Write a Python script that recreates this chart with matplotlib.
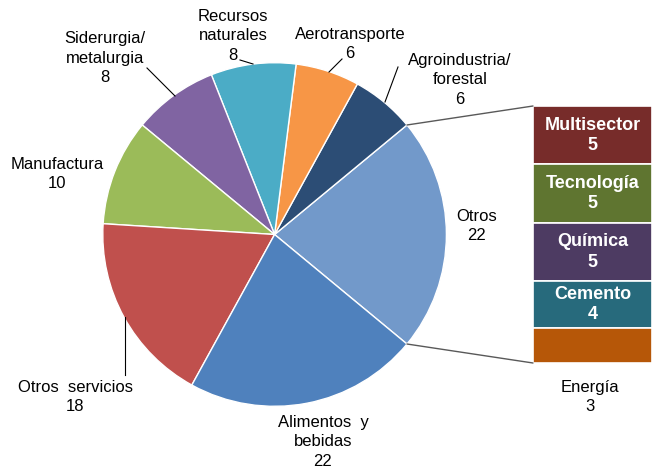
import matplotlib.pyplot as plt
from matplotlib.patches import ConnectionPatch
import numpy as np

plt.rcParams['font.family'] = ['Liberation Sans', 'DejaVu Sans']

# Sectores del gráfico circular (en orden antihorario, empezando por "Otros")
sectores = ["Otros", "Agroindustria/\nforestal", "Aerotransporte", "Recursos\nnaturales",
            "Siderurgia/\nmetalurgia", "Manufactura", "Otros  servicios", "Alimentos  y\nbebidas"]
valores = [22, 6, 6, 8, 8, 10, 18, 22]
colores = ["#7299CA", "#2C4D75", "#F79646", "#4BACC6", "#8064A2", "#9BBB59", "#C0504D", "#4F81BD"]

# Desglose de "Otros" (barra apilada, de arriba hacia abajo)
otros_sect = ["Multisector", "Tecnología", "Química", "Cemento", "Energía"]
otros_val = [5, 5, 5, 4, 3]
otros_col = ["#772C2A", "#5F7530", "#4D3B62", "#276A7C", "#B65708"]

W, H = 652, 472
fig = plt.figure(figsize=(W / 100, H / 100), dpi=100)
ax = fig.add_axes([0, 0, 1, 1])

cx, cy, r = 274.6, 237.5, 171.8
inicio = -valores[0] / sum(valores) * 360 / 2
wedges, _ = ax.pie(valores, colors=colores, startangle=inicio, counterclock=True,
                   center=(cx, cy), radius=r, frame=True,
                   wedgeprops=dict(edgecolor="white", linewidth=1.0))
ax.set_xlim(0, W)
ax.set_ylim(0, H)
ax.set_aspect("equal")
ax.axis("off")

fs = 12
# Posición de cada etiqueta (x, y) en píxeles desde arriba
etiquetas = {
    0: (477, 226),
    1: (460, 80),
    2: (350, 44),
    3: (233, 36),
    4: (105, 58),
    5: (57, 174),
    6: (75, 397),
    7: (323, 442),
}
for i, (x, y) in etiquetas.items():
    ax.text(x, H - y, f"{sectores[i]}\n{valores[i]}", ha="center", va="center",
            fontsize=fs, color="black", linespacing=1.35)

# Líneas guía
guias = [((147, 68), (175, 96)), ((240, 60), (253, 64)), ((342, 59), (329, 72)),
         ((398, 67), (385, 102)), ((125, 317), (125, 375))]
for (x0, y0), (x1, y1) in guias:
    ax.plot([x0, x1], [H - y0, H - y1], color="black", linewidth=0.8)

# Barra apilada con el desglose
bx0, bx1, by_top, by_bot = 533, 652, 106, 363
axb = fig.add_axes([bx0 / W, (H - by_bot) / H, (bx1 - bx0) / W, (by_bot - by_top) / H])
total = sum(otros_val)
abajo = total
for nom, v, c in zip(otros_sect, otros_val, otros_col):
    abajo -= v
    axb.bar(0, v, bottom=abajo, width=1, color=c, edgecolor="white", linewidth=1.2)
    if nom != "Energía":
        axb.text(0, abajo + v / 2, f"{nom}\n{v}", ha="center", va="center",
                 color="white", fontsize=13, fontweight="bold", linespacing=1.25)
axb.set_xlim(-0.5, 0.5)
axb.set_ylim(0, total)
axb.axis("off")

ax.text(590, H - 397, f"Energía\n{otros_val[-1]}", ha="center", va="center",
        fontsize=fs, color="black", linespacing=1.35)

# Conectores entre el sector "Otros" y la barra
ang = np.deg2rad(valores[0] / sum(valores) * 360 / 2)
for signo, yb in [(1, total), (-1, 0)]:
    p = (cx + r * np.cos(ang), cy + signo * r * np.sin(ang))
    con = ConnectionPatch(xyA=p, coordsA=ax.transData, xyB=(-0.5, yb), coordsB=axb.transData,
                          color="#595959", linewidth=1.0)
    fig.add_artist(con)

fig.savefig("out.png", dpi=100)
